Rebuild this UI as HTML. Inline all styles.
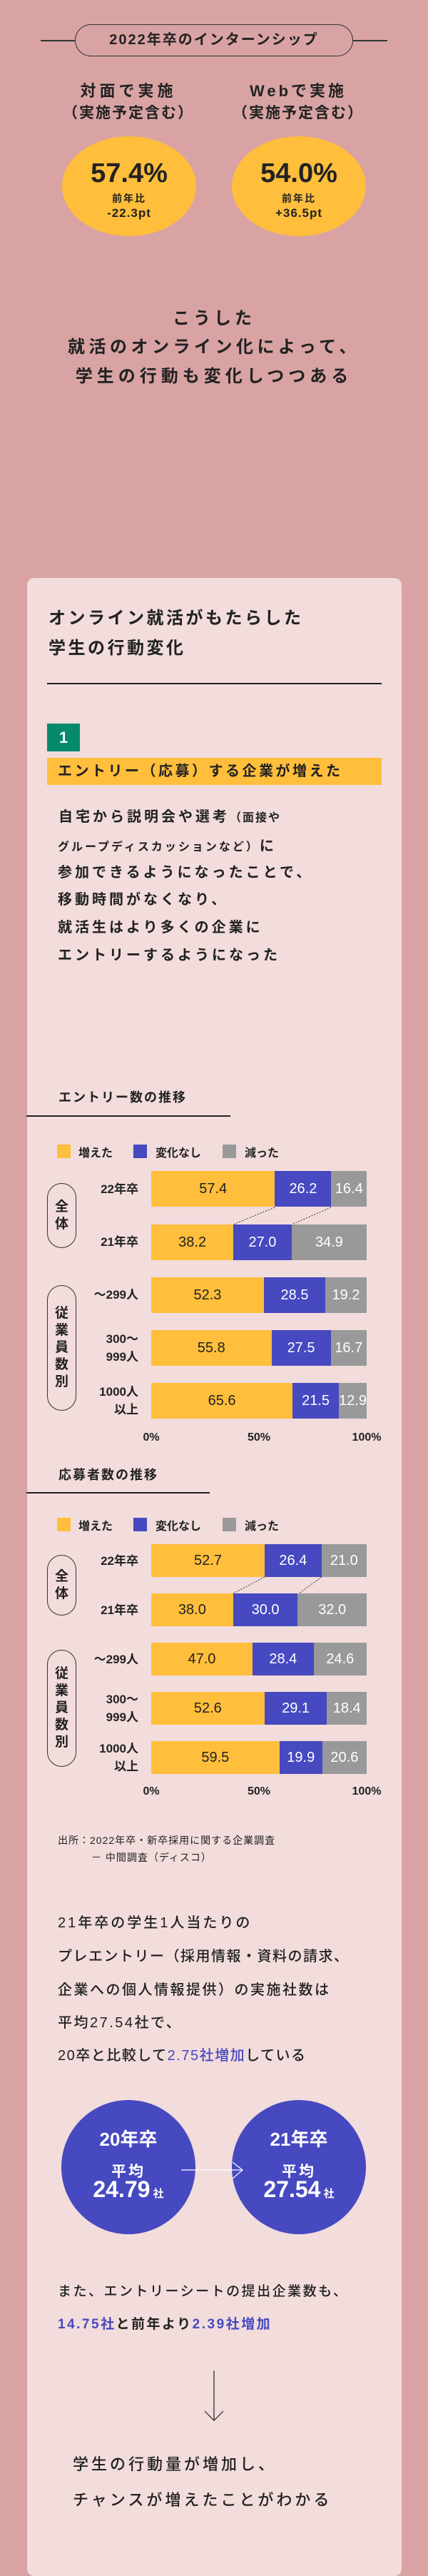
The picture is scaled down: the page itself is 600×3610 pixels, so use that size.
<!DOCTYPE html>
<html><head><meta charset="utf-8">
<style>
*{margin:0;padding:0;box-sizing:border-box}
body{width:600px;height:3563px;background:#D9A3A4;position:relative;overflow:hidden;font-family:"Liberation Sans","Noto Sans CJK JP",sans-serif;color:#222}
.a{position:absolute;white-space:nowrap}
.card{position:absolute;left:38px;top:810px;width:525px;height:2800px;background:#F2DCDC;border-radius:10px}
.b{font-weight:700}
.bar{position:absolute;left:212px;width:302px;display:flex}
.bar div{display:flex;align-items:center;justify-content:center;font-size:20px;font-weight:500;overflow:hidden}
.y{background:#FFBE3B;color:#222}.u{background:#4649C0;color:#fff}.g{background:#999;color:#fff}
.lbl{position:absolute;right:406px;text-align:right;font-size:17px;font-weight:700;line-height:25px}
.pill{position:absolute;left:66px;width:41px;border:1.5px solid #333;border-radius:21px;display:flex;flex-direction:column;align-items:center;justify-content:center;font-size:19px;font-weight:700;line-height:24px}
.leg{position:absolute;width:19px;height:19px}
.legt{position:absolute;font-size:16px;font-weight:700}
.ax{position:absolute;font-size:16px;font-weight:700;transform:translateX(-50%)}
.circ{position:absolute;width:188px;height:188px;border-radius:50%;background:#4649C0;color:#fff;text-align:center}
.bl{color:#4649C0}
</style></head><body>

<!-- top pill title -->
<div class="a" style="left:57px;top:56px;width:48px;height:1.5px;background:#333"></div>
<div class="a" style="left:495px;top:56px;width:48px;height:1.5px;background:#333"></div>
<div class="a" style="left:105px;top:34px;width:390px;height:45px;border:1.5px solid #333;border-radius:23px;text-align:center;line-height:42px;font-size:20px;font-weight:700;letter-spacing:2px">2022年卒のインターンシップ</div>

<div class="a b" style="left:80px;width:200px;top:110px;text-align:center;font-size:22px;letter-spacing:5px">対面で実施</div>
<div class="a b" style="left:70px;width:220px;top:142px;text-align:center;font-size:21px;letter-spacing:2px">（実施予定含む）</div>
<div class="a b" style="left:318px;width:200px;top:110px;text-align:center;font-size:22px;letter-spacing:4px">Webで実施</div>
<div class="a b" style="left:308px;width:220px;top:142px;text-align:center;font-size:21px;letter-spacing:2px">（実施予定含む）</div>

<div class="a" style="left:87px;top:191px;width:188px;height:140px;border-radius:50%;background:#FFBE3B"></div>
<div class="a" style="left:325px;top:191px;width:188px;height:140px;border-radius:50%;background:#FFBE3B"></div>
<div class="a b" style="left:87px;width:188px;top:222px;text-align:center;font-size:38px">57.4%</div>
<div class="a b" style="left:87px;width:188px;top:268px;text-align:center;font-size:14px;letter-spacing:2px">前年比</div>
<div class="a b" style="left:87px;width:188px;top:289px;text-align:center;font-size:17px;letter-spacing:1px">-22.3pt</div>
<div class="a b" style="left:325px;width:188px;top:222px;text-align:center;font-size:38px">54.0%</div>
<div class="a b" style="left:325px;width:188px;top:268px;text-align:center;font-size:14px;letter-spacing:2px">前年比</div>
<div class="a b" style="left:325px;width:188px;top:289px;text-align:center;font-size:17px;letter-spacing:1px">+36.5pt</div>

<div class="a b" style="left:0;width:600px;top:426px;text-align:center;font-size:24px;letter-spacing:5px">こうした</div>
<div class="a b" style="left:0;width:600px;top:466px;text-align:center;font-size:24px;letter-spacing:5.5px">就活のオンライン化によって、</div>
<div class="a b" style="left:0;width:600px;top:507px;text-align:center;font-size:24px;letter-spacing:6px">学生の行動も変化しつつある</div>

<div class="card"></div>
<div class="a b" style="left:68px;top:846px;font-size:24px;letter-spacing:3.5px">オンライン就活がもたらした</div>
<div class="a b" style="left:68px;top:888px;font-size:24px;letter-spacing:3.5px">学生の行動変化</div>
<div class="a" style="left:66px;top:957px;width:469px;height:1.5px;background:#222"></div>

<div class="a b" style="left:66px;top:1014px;width:46px;height:39px;background:#068A6C;color:#fff;font-size:22px;text-align:center;line-height:39px">1</div>
<div class="a b" style="left:66px;top:1062px;width:469px;height:38px;background:#FFBE3B;font-size:20px;line-height:38px;padding-left:15px;letter-spacing:3.5px">エントリー（応募）する企業が増えた</div>

<div class="a b" style="left:82px;top:1128px;font-size:20px;letter-spacing:4px">自宅から説明会や選考<span style="font-size:16px;letter-spacing:2px">（面接や</span></div>
<div class="a b" style="left:81px;top:1169px;font-size:16px;letter-spacing:3px">グループディスカッションなど）<span style="font-size:20px">に</span></div>
<div class="a b" style="left:81px;top:1206px;font-size:20px;letter-spacing:4px">参加できるようになったことで、</div>
<div class="a b" style="left:81px;top:1244px;font-size:20px;letter-spacing:4px">移動時間がなくなり、</div>
<div class="a b" style="left:81px;top:1283px;font-size:20px;letter-spacing:4px">就活生はより多くの企業に</div>
<div class="a b" style="left:81px;top:1322px;font-size:20px;letter-spacing:4px">エントリーするようになった</div>

<!-- chart 1 -->
<div class="a b" style="left:82px;top:1524px;font-size:18px;letter-spacing:2px">エントリー数の推移</div>
<div class="a" style="left:37px;top:1563px;width:286px;height:1.5px;background:#222"></div>
<div class="leg y" style="left:80px;top:1604px"></div><div class="legt" style="left:110px;top:1602px">増えた</div>
<div class="leg u" style="left:187px;top:1604px"></div><div class="legt" style="left:218px;top:1602px">変化なし</div>
<div class="leg g" style="left:312px;top:1604px"></div><div class="legt" style="left:343px;top:1602px">減った</div>

<div class="bar" style="top:1641px;height:50px"><div class="y" style="flex:57.4 1 0">57.4</div><div class="u" style="flex:26.2 1 0">26.2</div><div class="g" style="flex:16.4 1 0">16.4</div></div>
<div class="bar" style="top:1716px;height:50px"><div class="y" style="flex:38.2 1 0">38.2</div><div class="u" style="flex:27.0 1 0">27.0</div><div class="g" style="flex:34.9 1 0">34.9</div></div>
<div class="bar" style="top:1790px;height:50px"><div class="y" style="flex:52.3 1 0">52.3</div><div class="u" style="flex:28.5 1 0">28.5</div><div class="g" style="flex:19.2 1 0">19.2</div></div>
<div class="bar" style="top:1864px;height:50px"><div class="y" style="flex:55.8 1 0">55.8</div><div class="u" style="flex:27.5 1 0">27.5</div><div class="g" style="flex:16.7 1 0">16.7</div></div>
<div class="bar" style="top:1938px;height:50px"><div class="y" style="flex:65.6 1 0">65.6</div><div class="u" style="flex:21.5 1 0">21.5</div><div class="g" style="flex:12.9 1 0">12.9</div></div>
<svg class="a" style="left:0;top:0" width="600" height="3563">
<line x1="385" y1="1692" x2="327" y2="1716" stroke="#333" stroke-dasharray="2,2"/>
<line x1="464" y1="1692" x2="409" y2="1716" stroke="#333" stroke-dasharray="2,2"/>
<line x1="371" y1="2210" x2="327" y2="2233" stroke="#333" stroke-dasharray="2,2"/>
<line x1="451" y1="2210" x2="419" y2="2233" stroke="#333" stroke-dasharray="2,2"/>
</svg>
<div class="lbl" style="top:1654px">22年卒</div>
<div class="lbl" style="top:1728px">21年卒</div>
<div class="lbl" style="top:1802px">〜299人</div>
<div class="lbl" style="top:1864px">300〜<br>999人</div>
<div class="lbl" style="top:1938px">1000人<br>以上</div>
<div class="pill" style="top:1658px;height:91px">全<br>体</div>
<div class="pill" style="top:1801px;height:176px">従<br>業<br>員<br>数<br>別</div>
<div class="ax" style="left:212px;top:2006px">0%</div>
<div class="ax" style="left:363px;top:2006px">50%</div>
<div class="ax" style="left:514px;top:2006px">100%</div>

<!-- chart 2 -->
<div class="a b" style="left:82px;top:2053px;font-size:18px;letter-spacing:2px">応募者数の推移</div>
<div class="a" style="left:37px;top:2091px;width:257px;height:1.5px;background:#222"></div>
<div class="leg y" style="left:80px;top:2127px"></div><div class="legt" style="left:110px;top:2125px">増えた</div>
<div class="leg u" style="left:187px;top:2127px"></div><div class="legt" style="left:218px;top:2125px">変化なし</div>
<div class="leg g" style="left:312px;top:2127px"></div><div class="legt" style="left:343px;top:2125px">減った</div>

<div class="bar" style="top:2164px;height:46px"><div class="y" style="flex:52.7 1 0">52.7</div><div class="u" style="flex:26.4 1 0">26.4</div><div class="g" style="flex:21.0 1 0">21.0</div></div>
<div class="bar" style="top:2233px;height:46px"><div class="y" style="flex:38.0 1 0">38.0</div><div class="u" style="flex:30.0 1 0">30.0</div><div class="g" style="flex:32.0 1 0">32.0</div></div>
<div class="bar" style="top:2302px;height:46px"><div class="y" style="flex:47.0 1 0">47.0</div><div class="u" style="flex:28.4 1 0">28.4</div><div class="g" style="flex:24.6 1 0">24.6</div></div>
<div class="bar" style="top:2371px;height:46px"><div class="y" style="flex:52.6 1 0">52.6</div><div class="u" style="flex:29.1 1 0">29.1</div><div class="g" style="flex:18.4 1 0">18.4</div></div>
<div class="bar" style="top:2440px;height:46px"><div class="y" style="flex:59.5 1 0">59.5</div><div class="u" style="flex:19.9 1 0">19.9</div><div class="g" style="flex:20.6 1 0">20.6</div></div>
<div class="lbl" style="top:2175px">22年卒</div>
<div class="lbl" style="top:2244px">21年卒</div>
<div class="lbl" style="top:2313px">〜299人</div>
<div class="lbl" style="top:2369px">300〜<br>999人</div>
<div class="lbl" style="top:2438px">1000人<br>以上</div>
<div class="pill" style="top:2179px;height:85px">全<br>体</div>
<div class="pill" style="top:2312px;height:164px">従<br>業<br>員<br>数<br>別</div>
<div class="ax" style="left:212px;top:2502px">0%</div>
<div class="ax" style="left:363px;top:2502px">50%</div>
<div class="ax" style="left:514px;top:2502px">100%</div>

<div class="a" style="left:81px;top:2569px;font-size:14px;letter-spacing:1px">出所：2022年卒・新卒採用に関する企業調査</div>
<div class="a" style="left:128px;top:2593px;font-size:14px;letter-spacing:1px">－ 中間調査（ディスコ）</div>

<div class="a" style="left:81px;top:2678px;font-size:20px;font-weight:500;letter-spacing:3px">21年卒の学生1人当たりの</div>
<div class="a" style="left:81px;top:2725px;font-size:20px;font-weight:500;letter-spacing:1.5px">プレエントリー（採用情報・資料の請求、</div>
<div class="a" style="left:81px;top:2772px;font-size:20px;font-weight:500;letter-spacing:2.5px">企業への個人情報提供）の実施社数は</div>
<div class="a" style="left:81px;top:2818px;font-size:20px;font-weight:500;letter-spacing:2.5px">平均27.54社で、</div>
<div class="a" style="left:81px;top:2864px;font-size:20px;font-weight:500;letter-spacing:1.5px">20卒と比較して<span class="bl">2.75社増加</span>している</div>

<div class="circ" style="left:86px;top:2943px"></div>
<div class="circ" style="left:325px;top:2943px"></div>
<div class="a b" style="left:86px;width:188px;top:2978px;text-align:center;color:#fff;font-size:26px">20年卒</div>
<div class="a b" style="left:86px;width:188px;top:3027px;text-align:center;color:#fff;font-size:21px;letter-spacing:3px">平均</div>
<div class="a b" style="left:86px;width:188px;top:3050px;text-align:center;color:#fff;font-size:32px">24.79<span style="font-size:15px"> 社</span></div>
<div class="a b" style="left:325px;width:188px;top:2978px;text-align:center;color:#fff;font-size:26px">21年卒</div>
<div class="a b" style="left:325px;width:188px;top:3027px;text-align:center;color:#fff;font-size:21px;letter-spacing:3px">平均</div>
<div class="a b" style="left:325px;width:188px;top:3050px;text-align:center;color:#fff;font-size:32px">27.54<span style="font-size:15px"> 社</span></div>
<svg class="a" style="left:0;top:0" width="600" height="3563">
<line x1="254" y1="3041" x2="340" y2="3041" stroke="#fff" stroke-width="1.2"/>
<polyline points="326,3030 340,3041 326,3053" fill="none" stroke="#fff" stroke-width="1.2"/>
<line x1="300" y1="3322" x2="300" y2="3392" stroke="#222" stroke-width="1.2"/>
<polyline points="287,3379 300,3392 313,3379" fill="none" stroke="#222" stroke-width="1.2"/>
</svg>

<div class="a" style="left:81px;top:3196px;font-size:19px;font-weight:500;letter-spacing:2.5px">また、エントリーシートの提出企業数も、</div>
<div class="a" style="left:81px;top:3242px;font-size:19px;font-weight:700;letter-spacing:2.5px"><span class="bl">14.75社</span>と前年より<span class="bl">2.39社増加</span></div>

<div class="a" style="left:102px;top:3436px;font-size:22px;font-weight:500;letter-spacing:4px">学生の行動量が増加し、</div>
<div class="a" style="left:102px;top:3486px;font-size:22px;font-weight:500;letter-spacing:4px">チャンスが増えたことがわかる</div>
</body></html>
